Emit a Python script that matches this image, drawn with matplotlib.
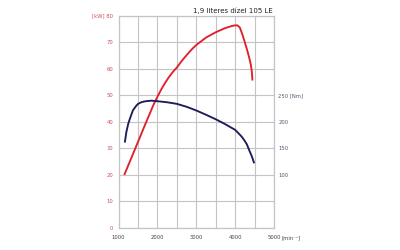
import matplotlib
matplotlib.use("Agg")
import matplotlib.pyplot as plt

# Data
rpm_power = [1145, 1300, 1500, 1700, 1900, 2000, 2100, 2200, 2300, 2400, 2500, 2600, 2700, 2800,
             2900, 3000, 3250, 3500, 3750, 3900, 4000, 4060, 4120, 4190, 4250, 4320, 4360, 4405, 4430, 4445]
power_kw = [20, 25.4, 32.5, 39.6, 46.5, 49.5, 52.3, 54.8, 57, 58.9, 60.5, 62.5, 64.3, 66,
            67.6, 69, 71.8, 73.8, 75.4, 76.1, 76.4, 76.4, 75.6, 72.8, 70, 66.5, 64.3, 61.5, 58.8, 55.6]

rpm_torque = [1160, 1200, 1250, 1300, 1370, 1450, 1500, 1600, 1700, 1840, 2000, 2250, 2500, 2750,
              3000, 3250, 3500, 3750, 4000, 4100, 4170, 4230, 4300, 4360, 4430, 4490]
torque_nm = [161, 181, 197, 208, 222, 230, 234, 237.5, 239, 240, 239, 237, 234, 228.5,
             221.5, 213.5, 205, 195.5, 185, 177.5, 172, 166, 158, 147, 135, 122]

x_ticks = [1000, 2000, 3000, 4000, 5000]
x_labels = ["1000", "2000", "3000", "4000", "5000"]
kw_ticks = [0, 10, 20, 30, 40, 50, 60, 70, 80]
kw_labels = ["0", "10", "20", "30", "40", "50", "60", "70", "[kW] 80"]
nm_ticks = [100, 150, 200, 250]
nm_labels = ["100", "150", "200", "250 [Nm]"]
title = "1,9 literes dízel 105 LE"

plt.rcParams['font.family'] = ['DejaVu Sans']
fig = plt.figure(figsize=(4, 2.5), dpi=100)
ax = fig.add_axes([0.2965, 0.088, 0.3885, 0.8488])
ax2 = ax.twinx()

grid_c = "#c4c4c4"
ax.set_xlim(1000, 5000)
ax.set_ylim(0, 80)
ax2.set_ylim(0, 400)
ax.set_xticks(x_ticks)
ax.set_xticks([1500, 2500, 3500, 4500], minor=True)
ax.set_xticklabels(x_labels)
ax.set_yticks(kw_ticks)
ax.set_yticklabels(kw_labels)
ax2.set_yticks(nm_ticks)
ax2.set_yticklabels(nm_labels)

ax.grid(True, which='both', color=grid_c, linewidth=0.8)
ax.set_axisbelow(True)
for a in (ax, ax2):
    for s in a.spines.values():
        s.set_color(grid_c)
        s.set_linewidth(0.8)
ax.tick_params(axis='x', which='both', length=0, pad=5, labelsize=3.8, labelcolor="#444444")
ax.tick_params(axis='y', length=0, pad=4, labelsize=3.8, labelcolor="#c8505a")
ax2.tick_params(axis='y', length=0, pad=3, labelsize=3.8, labelcolor="#555570")

ax.plot(rpm_power, power_kw, color="#e0202a", linewidth=1.35, solid_capstyle='butt', solid_joinstyle='round')
ax2.plot(rpm_torque, torque_nm, color="#1c1c5a", linewidth=1.35, solid_capstyle='butt', solid_joinstyle='round')

fig.text(0.703, 0.048, "[min⁻¹]", fontsize=3.8, color="#444444", ha='left', va='center')
fig.text(0.683, 0.956, title, fontsize=5, color="#222222", ha='right', va='center')

fig.savefig("out.png", dpi=100)
